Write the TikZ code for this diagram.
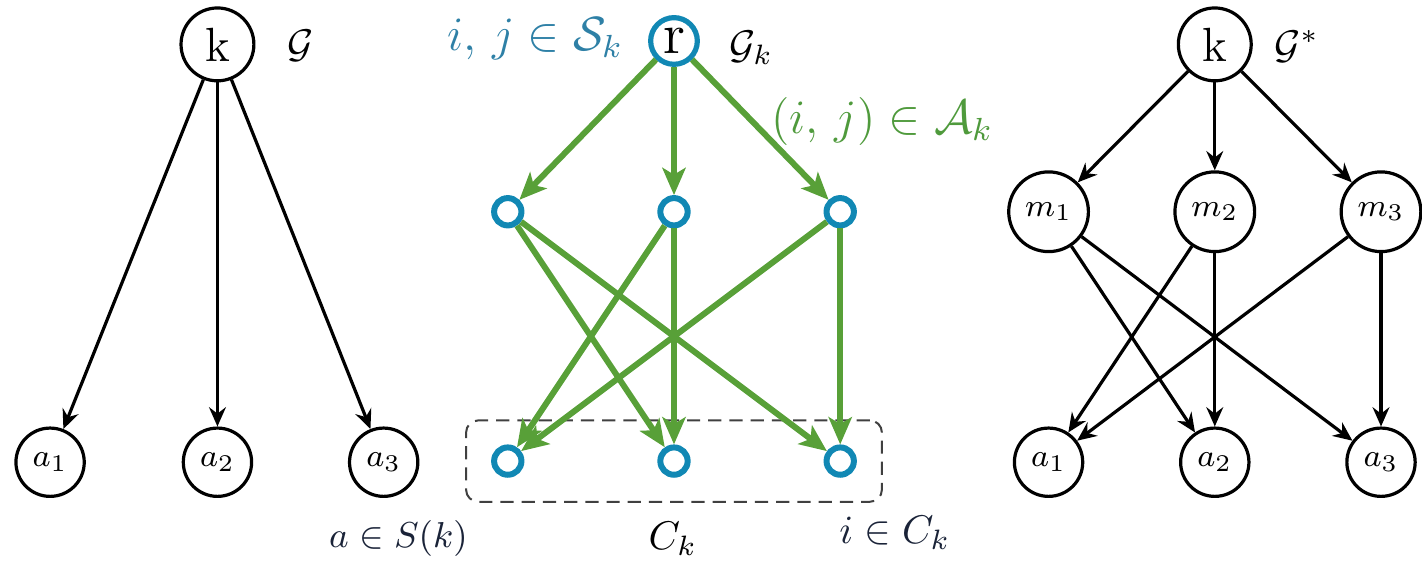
\documentclass[tikz,border=0pt]{standalone}
\usepackage{amsmath}
\usepackage{amsfonts}
\usetikzlibrary{shapes,arrows.meta,positioning,fit,calc,backgrounds}

\definecolor{ringblue}{HTML}{1188B4}
\definecolor{tagblue}{HTML}{2E80A6}
\definecolor{arcgreen}{HTML}{58A038}
\definecolor{taggreen}{HTML}{4F9A3C}
\definecolor{tagnavy}{HTML}{1A2338}

\begin{document}
\begin{tikzpicture}[
    vert/.style={draw, circle, line width=0.8pt, inner sep=0pt},
    top/.style={vert, minimum size=0.64cm, font=\large},
    leaf/.style={vert, minimum size=0.6cm, font=\footnotesize},
    inner/.style={vert, minimum size=0.7cm, font=\footnotesize},
    ring/.style={draw=ringblue, circle, line width=1.5pt, inner sep=0pt, minimum size=0.24cm},
    edge/.style={-{Stealth[length=4.8pt, width=4.2pt, inset=1.6pt]}, line width=0.8pt},
    gedge/.style={-{Stealth[length=6.8pt, width=5.8pt, inset=1.7pt]}, line width=1.5pt, draw=arcgreen},
    tag/.style={font=\normalsize},
]

\useasboundingbox (0,0) rectangle (12.49,4.94);

% Graph G
\node[top] (k) at (1.91, 4.55) {k};
\node[leaf] (a1) at (0.44, 0.88) {$a_1$};
\node[leaf] (a2) at (1.91, 0.88) {$a_2$};
\node[leaf] (a3) at (3.37, 0.88) {$a_3$};
\node[tag] (g) at (2.64, 4.54) {$\mathcal{G}$};
\node[tag, font=\small, text=tagnavy, anchor=base] (ask) at (3.50, 0.13) {$a \in S(k)$};

\draw[edge] (k) -- (a1);
\draw[edge] (k) -- (a2);
\draw[edge] (k) -- (a3);

% Graph G_k
\node[ring, line width=1.3pt, minimum size=0.41cm, font=\Large, inner sep=0pt] (r) at (5.92, 4.58) {r};
\node[ring] (s1) at (4.46, 3.08) {};
\node[ring] (s2) at (5.92, 3.08) {};
\node[ring] (s3) at (7.38, 3.08) {};
\node[ring] (c1) at (4.46, 0.89) {};
\node[ring] (c2) at (5.92, 0.89) {};
\node[ring] (c3) at (7.38, 0.89) {};

\begin{scope}[on background layer]
  \node[draw=black!75, dash pattern=on 3.3pt off 2pt, line width=0.5pt, rounded corners=3pt,
        inner xsep=6.25pt, inner ysep=6pt, fit=(c1)(c3)] (ck) {};
\end{scope}

\node[tag, font=\large, text=tagblue, anchor=base] (sk) at (4.70, 4.50) {$i,\, j \in \mathcal{S}_k$};
\node[tag] (gk) at (6.60, 4.52) {$\mathcal{G}_k$};
\node[tag, font=\large, text=taggreen, anchor=base] (ak) at (7.75, 3.77) {$(i,\, j) \in \mathcal{A}_k$};
\node[tag, anchor=base] (cklab) at (5.91, 0.11) {$C_k$};
\node[tag, text=tagnavy, anchor=base] (ick) at (7.86, 0.17) {$i \in C_k$};

\draw[gedge] (r) -- (s1);
\draw[gedge] (r) -- (s2);
\draw[gedge] (r) -- (s3);
\draw[gedge] (s1) -- (c2);
\draw[gedge] (s1) -- (c3);
\draw[gedge] (s2) -- (c1);
\draw[gedge] (s2) -- (c2);
\draw[gedge] (s3) -- (c1);
\draw[gedge] (s3) -- (c3);

% Graph G*
\node[top] (ks) at (10.67, 4.55) {k};
\node[inner] (m1) at (9.21, 3.08) {$m_1$};
\node[inner] (m2) at (10.67, 3.08) {$m_2$};
\node[inner] (m3) at (12.13, 3.08) {$m_3$};
\node[leaf] (b1) at (9.21, 0.88) {$a_1$};
\node[leaf] (b2) at (10.67, 0.88) {$a_2$};
\node[leaf] (b3) at (12.13, 0.88) {$a_3$};
\node[tag] (gs) at (11.39, 4.53) {$\mathcal{G}^*$};

\draw[edge] (ks) -- (m1);
\draw[edge] (ks) -- (m2);
\draw[edge] (ks) -- (m3);
\draw[edge] (m1) -- (b2);
\draw[edge] (m1) -- (b3);
\draw[edge] (m2) -- (b1);
\draw[edge] (m2) -- (b2);
\draw[edge] (m3) -- (b1);
\draw[edge] (m3) -- (b3);

\end{tikzpicture}
\end{document}
